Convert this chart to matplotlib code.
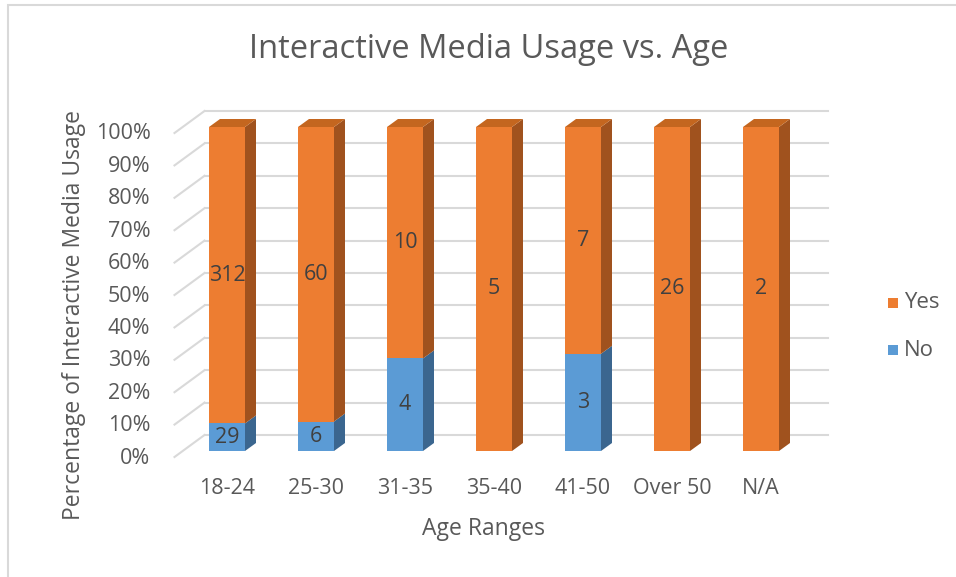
import numpy as np
import matplotlib
matplotlib.use('Agg')
import matplotlib.pyplot as plt
from matplotlib.patches import Polygon, Rectangle
from matplotlib.lines import Line2D

plt.rcParams['font.family'] = ['Open Sans', 'DejaVu Sans']

age_ranges = ['18-24', '25-30', '31-35', '35-40', '41-50', 'Over 50', 'N/A']
no_counts = [29, 6, 4, 0, 3, 0, 0]
yes_counts = [312, 60, 10, 5, 7, 26, 2]
y_ticks = [0, 10, 20, 30, 40, 50, 60, 70, 80, 90, 100]

no_counts = np.array(no_counts, dtype=float)
yes_counts = np.array(yes_counts, dtype=float)
totals = no_counts + yes_counts
no_pct = no_counts / totals * 100
yes_pct = yes_counts / totals * 100

orange, orange_side, orange_top = '#ED7D31', '#A0521E', '#C4661F'
blue, blue_side, blue_top = '#5B9BD5', '#3B668F', '#4A80B3'
grid_c = '#D9D9D9'
txt_c = '#595959'
lbl_c = '#404040'

W, H = 956, 577
fig = plt.figure(figsize=(W / 100, H / 100), dpi=100)
# axes = front plane of the bars, in pixels: x 182.5..805.5, y 127..451 (from top)
ax = fig.add_axes([182.5 / W, (H - 451) / H, 623 / W, 324 / H])
ax.set_xlim(-0.5, 6.5)
ax.set_ylim(0, 100)
ax.axis('off')

px_x = 7 / 623.0   # data units per pixel
px_y = 100 / 324.0

def shift(x, y, dx, dy):
    return x + dx * px_x, y + dy * px_y

# back wall gridlines and left-side diagonals
for t in y_ticks:
    x0, y0 = shift(-0.5, t, 22, 16)
    x1, y1 = shift(6.5, t, 22, 16)
    ax.add_line(Line2D([x0, x1], [y0, y1], color=grid_c, lw=1.5, clip_on=False, zorder=1))
    xa, ya = shift(-0.5, t, -8, -6)
    ax.add_line(Line2D([xa, x0], [ya, y0], color=grid_c, lw=1.5, clip_on=False, zorder=1))
    xt, yt = shift(-0.5, t, -32, -7)
    ax.text(xt, yt, f'{t}%', ha='right', va='center', fontsize=15.5, color=txt_c)

bw = 36 * px_x
ddx, ddy = 11, 8

def draw_segment(xc, y0, y1, front, side, top=None):
    xl, xr = xc - bw / 2, xc + bw / 2
    ax.add_patch(Rectangle((xl, y0), bw, y1 - y0, facecolor=front, edgecolor='none',
                           clip_on=False, zorder=3))
    sx, sy0 = shift(xr, y0, ddx, ddy)
    _, sy1 = shift(xr, y1, ddx, ddy)
    ax.add_patch(Polygon([(xr, y0), (sx, sy0), (sx, sy1), (xr, y1)], closed=True,
                         facecolor=side, edgecolor='none', clip_on=False, zorder=3))
    if top is not None:
        tx, ty = shift(xl, y1, ddx, ddy)
        ax.add_patch(Polygon([(xl, y1), (xr, y1), (sx, ty), (tx, ty)], closed=True,
                             facecolor=top, edgecolor='none', clip_on=False, zorder=3))

for i in range(len(age_ranges)):
    if no_pct[i] > 0:
        draw_segment(i, 0, no_pct[i], blue, blue_side)
        ax.text(i, no_pct[i] / 2, f'{int(no_counts[i])}', ha='center', va='center',
                fontsize=15.5, color=lbl_c, zorder=5)
    draw_segment(i, no_pct[i], 100, orange, orange_side, orange_top)
    ax.text(i, no_pct[i] + yes_pct[i] / 2, f'{int(yes_counts[i])}', ha='center', va='center',
            fontsize=15.5, color=lbl_c, zorder=5)
    lx, ly = shift(i, 0, 0, -38)
    ax.text(lx, ly, age_ranges[i], ha='center', va='center', fontsize=15.5, color=txt_c)

fig.text(483 / W, 1 - 529 / H, 'Age Ranges', ha='center', va='center', fontsize=16.5, color=txt_c)
fig.text(74 / W, 1 - 315 / H, 'Percentage of Interactive Media Usage', ha='center', va='center',
         rotation=90, fontsize=16.5, color=txt_c)
fig.text(489 / W, 1 - 49 / H, 'Interactive Media Usage vs. Age', ha='center', va='center',
         fontsize=23.5, color=txt_c)

# legend
for lab, col, yy in [('Yes', orange, 303), ('No', blue, 350)]:
    fig.patches.append(Rectangle((888 / W, 1 - (yy + 5) / H), 10 / W, 10 / H,
                                 transform=fig.transFigure, facecolor=col, edgecolor='none'))
    fig.text(904 / W, 1 - yy / H, lab, ha='left', va='center', fontsize=16, color=txt_c)

# chart area border
fig.patches.append(Rectangle((8 / W, -0.05), 1.1, 1 - 5 / H + 0.05, transform=fig.transFigure,
                             facecolor='none', edgecolor='#D9D9D9', lw=1.5))

fig.savefig('out.png', dpi=100)
